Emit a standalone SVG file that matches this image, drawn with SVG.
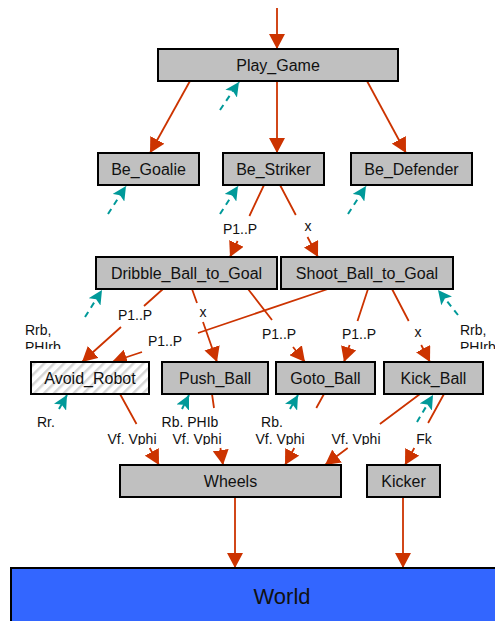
<svg xmlns="http://www.w3.org/2000/svg" width="495" height="621" viewBox="0 0 495 621">
  <style>
    .box { fill: #c0c0c0; stroke: #000; stroke-width: 2; }
    .avoid { fill: url(#hatch); stroke: #000; stroke-width: 2; }
    .world { fill: #3366ff; stroke: #000; stroke-width: 2; }
    .name { font-family: "Liberation Sans", Arial, sans-serif; font-size: 16px; fill: #111; text-anchor: middle; }
    .big { font-family: "Liberation Sans", Arial, sans-serif; font-size: 22px; fill: #111; text-anchor: middle; }
    .lbl { font-family: "Liberation Sans", Arial, sans-serif; font-size: 14px; fill: #111; }
    .mid { text-anchor: middle; }
    .flow { fill: none; stroke: #cc3300; stroke-width: 1.8; marker-end: url(#red-head); }
    .sense { fill: none; stroke: #009999; stroke-width: 2; stroke-dasharray: 6 5; marker-end: url(#teal-head); }
  </style>
  <defs>
    <pattern id="hatch" width="7" height="7" patternUnits="userSpaceOnUse" patternTransform="rotate(45)">
      <rect width="7" height="7" fill="#ffffff"/>
      <rect width="2.5" height="7" fill="#d6d6d6"/>
    </pattern>
    <marker id="red-head" markerUnits="userSpaceOnUse" markerWidth="15" markerHeight="16" refX="15" refY="8" orient="auto" viewBox="0 0 15 16">
      <path d="M0,0 L15,8 L0,16 z" fill="#cc3300"/>
    </marker>
    <marker id="teal-head" markerUnits="userSpaceOnUse" markerWidth="14" markerHeight="14" refX="14" refY="7" orient="auto" viewBox="0 0 14 14">
      <path d="M0,0 L14,7 L0,14 L3,7 z" fill="#009999"/>
    </marker>
    <clipPath id="cut-rrb" clipPathUnits="userSpaceOnUse">
      <rect x="0" y="300" width="495" height="49"/>
    </clipPath>
    <clipPath id="cut-low" clipPathUnits="userSpaceOnUse">
      <rect x="0" y="400" width="495" height="45"/>
    </clipPath>
  </defs>

  <!-- command flow (red) and sensor feedback (teal dashed) -->
  <g id="connectors">
    <path class="flow" d="M277,8 L277,49"/>
    <path class="flow" d="M190,81 L150,153"/>
    <path class="flow" d="M277,81 L277,153"/>
    <path class="flow" d="M367,81 L406,153"/>
    <path class="flow" d="M264,185 L249.4,216 M237.6,241 L230,257"/>
    <path class="flow" d="M280,185 L295.8,215 M307.5,237 L318,257"/>
    <path class="flow" d="M163,289 L144,306 M121,327 L82,362"/>
    <path class="flow" d="M328,289 L198,333 M142,352 L112,362"/>
    <path class="flow" d="M192,289 L197,303 M203,322 L217,362"/>
    <path class="flow" d="M248,289 L272,320 M293,347 L305,362"/>
    <path class="flow" d="M368,289 L357.5,321 M349.6,345 L344,362"/>
    <path class="flow" d="M392,289 L408.7,321 M421.2,345 L430,362"/>
    <path class="flow" d="M120,394 L136.5,424 M149.7,448 L159,465"/>
    <path class="flow" d="M212,394 L214,408 M220.4,448 L223,465"/>
    <path class="flow" d="M324,394 L316.3,408 M294.3,448 L285,465"/>
    <path class="flow" d="M420,394 L379.9,424 M347.7,448 L325,465"/>
    <path class="flow" d="M444,394 L428.1,423 M414.3,448 L405,465"/>
    <path class="flow" d="M235,497 L235,568"/>
    <path class="flow" d="M403,497 L403,568"/>

    <path class="sense" d="M220,110 L239,82"/>
    <path class="sense" d="M108,214 L126,186"/>
    <path class="sense" d="M220,214 L238,186"/>
    <path class="sense" d="M348,214 L366,186"/>
    <path class="sense" d="M85,317 L102,290"/>
    <path class="sense" d="M458,315 L438,290"/>
    <path class="sense" d="M59,409 L67,395"/>
    <path class="sense" d="M182,409 L189,395"/>
    <path class="sense" d="M290,409 L298,395"/>
    <path class="sense" d="M417,422 L433,395"/>
  </g>

  <!-- connector labels -->
  <g id="labels" class="lbl">
    <text class="mid" x="240" y="234">P1..P</text>
    <text class="mid" x="308" y="231">x</text>
    <text class="mid" x="135" y="320">P1..P</text>
    <text class="mid" x="203" y="317">x</text>
    <text class="mid" x="165" y="346">P1..P</text>
    <text class="mid" x="279" y="339">P1..P</text>
    <text class="mid" x="359" y="339">P1..P</text>
    <text class="mid" x="418" y="337">x</text>
    <g clip-path="url(#cut-rrb)">
      <text x="25" y="335">Rrb,</text>
      <text x="25" y="352">PHIrb</text>
      <text x="460" y="335">Rrb,</text>
      <text x="460" y="352">PHIrb</text>
    </g>
    <text x="37" y="427">Rr.</text>
    <text class="mid" x="190" y="427">Rb. PHIb</text>
    <text class="mid" x="272" y="427">Rb.</text>
    <g clip-path="url(#cut-low)">
      <text class="mid" x="132" y="444">Vf. Vphi</text>
      <text class="mid" x="197" y="444">Vf. Vphi</text>
      <text class="mid" x="280" y="444">Vf. Vphi</text>
      <text class="mid" x="356" y="444">Vf. Vphi</text>
      <text class="mid" x="424" y="444">Fk</text>
    </g>
  </g>

  <g id="play-game"><rect class="box" x="158" y="49" width="240" height="32"/><text class="name" x="278" y="71">Play_Game</text></g>
  <g id="be-goalie"><rect class="box" x="98" y="153" width="101" height="32"/><text class="name" x="148.5" y="175">Be_Goalie</text></g>
  <g id="be-striker"><rect class="box" x="223" y="153" width="101" height="32"/><text class="name" x="273.5" y="175">Be_Striker</text></g>
  <g id="be-defender"><rect class="box" x="351" y="153" width="121" height="32"/><text class="name" x="411.5" y="175">Be_Defender</text></g>
  <g id="dribble-ball-to-goal"><rect class="box" x="96" y="257" width="181" height="32"/><text class="name" x="186.5" y="279">Dribble_Ball_to_Goal</text></g>
  <g id="shoot-ball-to-goal"><rect class="box" x="281" y="257" width="172" height="32"/><text class="name" x="367" y="279">Shoot_Ball_to_Goal</text></g>
  <g id="avoid-robot"><rect class="avoid" x="31" y="362" width="118" height="32"/><text class="name" x="90" y="384">Avoid_Robot</text></g>
  <g id="push-ball"><rect class="box" x="162" y="362" width="106" height="32"/><text class="name" x="215" y="384">Push_Ball</text></g>
  <g id="goto-ball"><rect class="box" x="276" y="362" width="99" height="32"/><text class="name" x="325.5" y="384">Goto_Ball</text></g>
  <g id="kick-ball"><rect class="box" x="384" y="362" width="99" height="32"/><text class="name" x="433.5" y="384">Kick_Ball</text></g>
  <g id="wheels"><rect class="box" x="120" y="465" width="221" height="32"/><text class="name" x="230.5" y="487">Wheels</text></g>
  <g id="kicker"><rect class="box" x="367" y="465" width="73" height="32"/><text class="name" x="403.5" y="487">Kicker</text></g>
  <g id="world"><rect class="world" x="11" y="568" width="500" height="70"/><text class="big" x="282" y="604">World</text></g>
</svg>
